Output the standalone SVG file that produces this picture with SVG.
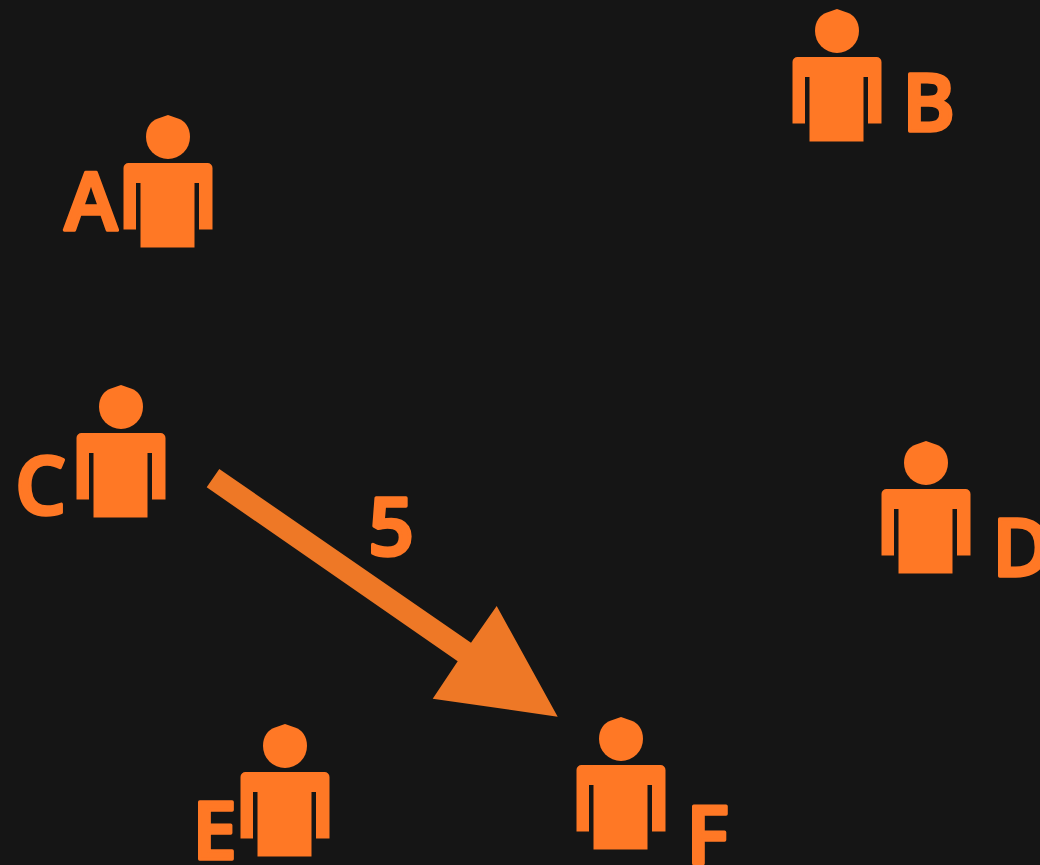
<svg xmlns="http://www.w3.org/2000/svg" width="1040" height="865" viewBox="0 0 1040 865">
<style>
.p{fill:#ff7825}
.t{font-family:"Open Sans","Noto Sans",sans-serif;font-weight:600;font-size:80px;fill:#ff7825;stroke:#ff7825;stroke-width:3.5px;stroke-linejoin:round}
.c{fill:#ee7826}
</style>
<defs>
<g id="person">
<path d="M146.500 137C146.500 127 151.500 121 158.500 118.500L168.500 115L178.500 118.500C185.500 121 190.500 127 190.500 137A22 22 0 0 1 146.500 137Z"/>
<path d="M129 163H208A5 5 0 0 1 213 168V229.500H199.500V183H195V247.500H141V183H136.500V229.500H124V168A5 5 0 0 1 129 163Z"/>
</g>
</defs>
<rect width="1040" height="865" fill="#151515"/>
<g id="connectors">
<path class="c" d="M219.300 469L471 642.700L496.700 606L557.700 716.700L432.700 698.700L457.700 661.300L206.700 487.300Z"/>
<text class="t" x="391" y="554.500" text-anchor="middle">5</text>
</g>
<g id="node-A"><use href="#person" class="p" x="-0.500"/><text class="t" x="91" y="230" text-anchor="middle">A</text></g>
<g id="node-B"><use href="#person" class="p" x="668.500" y="-106"/><text class="t" x="928.500" y="130.500" text-anchor="middle">B</text></g>
<g id="node-C"><use href="#person" class="p" x="-47.500" y="270"/><text class="t" x="40.500" y="513.500" text-anchor="middle">C</text></g>
<g id="node-D"><use href="#person" class="p" x="757.500" y="326"/><text class="t" x="1021.500" y="575.500" text-anchor="middle">D</text></g>
<g id="node-E"><use href="#person" class="p" x="116.500" y="609"/><text class="t" x="214.500" y="858.500" text-anchor="middle">E</text></g>
<g id="node-F"><use href="#person" class="p" x="452.500" y="602"/><text class="t" x="707.500" y="863.500" text-anchor="middle">F</text></g>
</svg>
